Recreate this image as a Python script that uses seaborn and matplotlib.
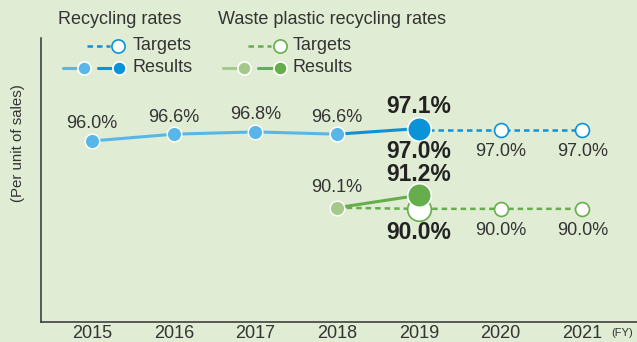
import matplotlib
matplotlib.use("Agg")
import seaborn as sns
from matplotlib import pyplot as plt
from matplotlib.lines import Line2D

# data
years = [2015, 2016, 2017, 2018, 2019, 2020, 2021]
recycling_results = [96.0, 96.6, 96.8, 96.6, 97.1]
recycling_targets = [97.0, 97.0, 97.0]          # 2019-2021
plastic_results = [90.1, 91.2]                  # 2018-2019
plastic_targets = [90.0, 90.0, 90.0]            # 2019-2021

BG = "#e0ecd4"
BLUE_L = "#58b7e8"
BLUE_D = "#0b93d8"
GREEN_L = "#a4c98b"
GREEN_D = "#66ad4b"
TXT = "#333333"

sns.set_style("white")
plt.rcParams["font.family"] = ["Liberation Sans", "DejaVu Sans"]

W, H = 637, 342
fig = plt.figure(figsize=(W / 100, H / 100), dpi=100, facecolor=BG)
ax = fig.add_axes([41 / W, 1 - 322 / H, 1 - 41 / W, (322 - 38) / H])
ax.set_facecolor(BG)


def px(x, y):
    return x / W, 1 - y / H


res_years = years[:len(recycling_results)]
tgt_years = years[4:]
pl_years = years[3:5]

# recycling rates
sns.lineplot(x=res_years[:4], y=recycling_results[:4], ax=ax, color=BLUE_L, lw=2.2,
             marker="o", markersize=10.5, markeredgecolor="white", markeredgewidth=1.0, zorder=3)
sns.lineplot(x=tgt_years, y=recycling_targets, ax=ax, color=BLUE_D, lw=1.8, linestyle=(0, (2.2, 1.6)),
             marker="o", markersize=10, markerfacecolor="white", markeredgecolor=BLUE_D,
             markeredgewidth=1.2, zorder=3)
sns.lineplot(x=res_years[3:5], y=recycling_results[3:5], ax=ax, color=BLUE_D, lw=2.2, zorder=4)
ax.plot(res_years[3], recycling_results[3], "o", ms=10.5, color=BLUE_L, mec="white", mew=1.0, zorder=5)
ax.plot(res_years[4], recycling_results[4], "o", ms=17, color=BLUE_D, mec="white", mew=1.2, zorder=6)

# waste plastic recycling rates
sns.lineplot(x=[pl_years[0]] + tgt_years, y=[plastic_results[0]] + plastic_targets, ax=ax,
             color=GREEN_D, lw=1.8, linestyle=(0, (2.2, 1.6)), zorder=3)
ax.plot(tgt_years[1:], plastic_targets[1:], "o", ms=10, mfc="white", mec=GREEN_D, mew=1.2, zorder=4, ls="none")
ax.plot(tgt_years[0], plastic_targets[0], "o", ms=17, mfc="white", mec=GREEN_D, mew=1.2, zorder=4)
sns.lineplot(x=pl_years, y=plastic_results, ax=ax, color=GREEN_D, lw=2.2, zorder=5)
ax.plot(pl_years[0], plastic_results[0], "o", ms=10.5, color=GREEN_L, mec="white", mew=1.0, zorder=6)
ax.plot(pl_years[1], plastic_results[1], "o", ms=17, color=GREEN_D, mec="white", mew=1.2, zorder=6)


def lab(x, y, dy, big=False):
    ax.annotate(f"{y:.1f}%", (x, y), xytext=(0, dy * 0.72), textcoords="offset points",
                ha="center", va="center", color="#222222" if big else TXT,
                fontsize=16.5 if big else 13, fontweight="bold" if big else "normal", zorder=10)


for x, y in zip(res_years[:4], recycling_results[:4]):
    lab(x, y, 17)
lab(res_years[4], recycling_results[4], 22, big=True)
lab(tgt_years[0], recycling_targets[0], -22, big=True)
for x, y in zip(tgt_years[1:], recycling_targets[1:]):
    lab(x, y, -22)
lab(pl_years[0], plastic_results[0], 20)
lab(pl_years[1], plastic_results[1], 21, big=True)
lab(tgt_years[0], plastic_targets[0], -24, big=True)
for x, y in zip(tgt_years[1:], plastic_targets[1:]):
    lab(x, y, -22)

ax.set_xlim(2014.375, 2021.67)
ax.set_ylim(80, 105.1)
ax.set_xticks(years)
ax.set_xticklabels([str(y) for y in years])
ax.set_yticks([])
ax.tick_params(axis="x", length=0, pad=2, labelsize=13, labelcolor=TXT)
for s in ["top", "right"]:
    ax.spines[s].set_visible(False)
for s in ["left", "bottom"]:
    ax.spines[s].set_color("#333333")
    ax.spines[s].set_linewidth(1.1)
ax.set_xlabel("")
ax.set_ylabel("")

fig.text(*px(611, 333), "(FY)", fontsize=8, color=TXT, ha="left", va="center")
fig.text(*px(18, 143), "(Per unit of sales)", rotation=90, fontsize=10.8, color=TXT, ha="center", va="center")

# legend
fig.text(*px(58, 20), "Recycling rates", fontsize=13, color=TXT, ha="left", va="center")
fig.text(*px(218, 20), "Waste plastic recycling rates", fontsize=13, color=TXT, ha="left", va="center")


def leg_line(x0, x1, y, color, dashed=False):
    fig.add_artist(Line2D([x0 / W, x1 / W], [1 - y / H, 1 - y / H], color=color,
                          lw=1.8 if dashed else 2.2, linestyle=(0, (2.2, 1.6)) if dashed else "-"))


def leg_dot(x, y, color, hollow=False):
    fig.add_artist(Line2D([x / W], [1 - y / H], marker="o", ms=9.5,
                          mfc="white" if hollow else color, mec=color if hollow else "white",
                          mew=1.2, ls="none"))


leg_line(87, 110, 46, BLUE_D, dashed=True)
leg_dot(118, 46, BLUE_D, hollow=True)
leg_line(63, 80, 68, BLUE_L)
leg_dot(84, 68, BLUE_L)
leg_line(98, 114, 68, BLUE_D)
leg_dot(119, 68, BLUE_D)
fig.text(*px(133, 45), "Targets", fontsize=13, color=TXT, ha="left", va="center")
fig.text(*px(133, 67), "Results", fontsize=13, color=TXT, ha="left", va="center")

leg_line(248, 271, 46, GREEN_D, dashed=True)
leg_dot(280, 46, GREEN_D, hollow=True)
leg_line(223, 238, 68, GREEN_L)
leg_dot(244, 68, GREEN_L)
leg_line(258, 274, 68, GREEN_D)
leg_dot(280, 68, GREEN_D)
fig.text(*px(293, 45), "Targets", fontsize=13, color=TXT, ha="left", va="center")
fig.text(*px(293, 67), "Results", fontsize=13, color=TXT, ha="left", va="center")

fig.savefig("out.png", dpi=100, facecolor=BG)
